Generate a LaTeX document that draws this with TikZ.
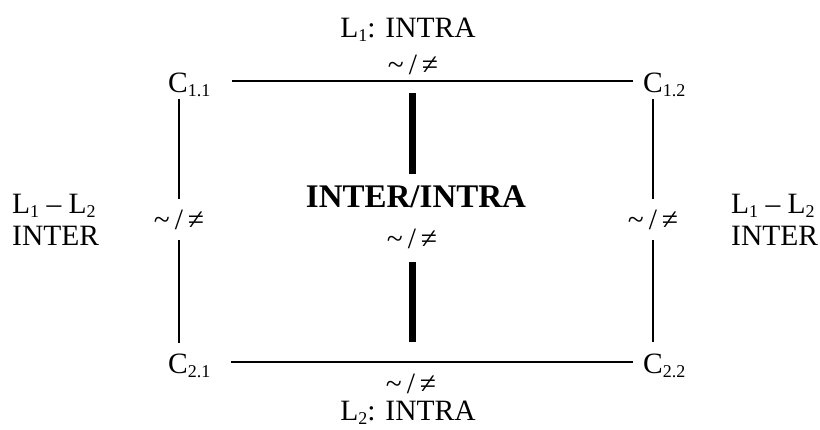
\documentclass[tikz,border=0pt]{standalone}
\usepackage{fontspec}
\setmainfont{Liberation Serif}
\newcommand\sbs[1]{\raisebox{-4.5pt}{\fontsize{18}{18}\selectfont #1}}
\newcommand\simneq{\textasciitilde\hspace{5pt}/\hspace{5pt}≠}
\begin{document}
\begin{tikzpicture}[x=1pt,y=-1pt,
  txt/.style={inner sep=0pt, font=\fontsize{29.5}{30}\selectfont},
  boldtxt/.style={inner sep=0pt, font=\fontsize{33}{33}\selectfont\bfseries},
  thinline/.style={line width=2.6pt},
  thickline/.style={line width=7pt}]
\useasboundingbox (0,0) rectangle (820,429);
% corner nodes
\node[txt, anchor=base west] (c11) at (168,92) {C\sbs{1.1}};
\node[txt, anchor=base west] (c12) at (643,92) {C\sbs{1.2}};
\node[txt, anchor=base west] (c21) at (168,373) {C\sbs{2.1}};
\node[txt, anchor=base west] (c22) at (643,373) {C\sbs{2.2}};
% labels
\node[txt, anchor=base] (l1) at (408,37) {L\sbs{1}: INTRA};
\node[txt, anchor=base] (topsim) at (413,74) {\simneq};
\node[txt, anchor=base] (botsim) at (411,393) {\simneq};
\node[txt, anchor=base] (l2) at (408,420) {L\sbs{2}: INTRA};
\node[txt, anchor=base] (lsim) at (179,229) {\simneq};
\node[txt, anchor=base] (rsim) at (653,229) {\simneq};
\node[txt, anchor=base west] (lta) at (12,213) {L\sbs{1} -- L\sbs{2}};
\node[txt, anchor=base west] (ltb) at (12,245) {INTER};
\node[txt, anchor=base west] (rta) at (731,213) {L\sbs{1} -- L\sbs{2}};
\node[txt, anchor=base west] (rtb) at (731,245) {INTER};
\node[boldtxt, anchor=base] (mid) at (416,207) {INTER/INTRA};
\node[txt, anchor=base] (midsim) at (412,248) {\simneq};
% connector end points
\coordinate (ta) at (232,81);  \coordinate (tb) at (633,81);
\coordinate (ba) at (231,362); \coordinate (bb) at (633,362);
\coordinate (lva) at (179,99);  \coordinate (lvb) at (179,199);
\coordinate (lvc) at (179,240); \coordinate (lvd) at (179,343);
\coordinate (rva) at (653,99);  \coordinate (rvb) at (653,199);
\coordinate (rvc) at (653,240); \coordinate (rvd) at (653,342);
\coordinate (cva) at (412.5,93);  \coordinate (cvb) at (412.5,174);
\coordinate (cvc) at (412.5,262); \coordinate (cvd) at (412.5,342);
% connectors
\draw[thinline] (ta) -- (tb);
\draw[thinline] (ba) -- (bb);
\draw[thinline] (lva) -- (lvb);
\draw[thinline] (lvc) -- (lvd);
\draw[thinline] (rva) -- (rvb);
\draw[thinline] (rvc) -- (rvd);
\draw[thickline] (cva) -- (cvb);
\draw[thickline] (cvc) -- (cvd);
\end{tikzpicture}
\end{document}
